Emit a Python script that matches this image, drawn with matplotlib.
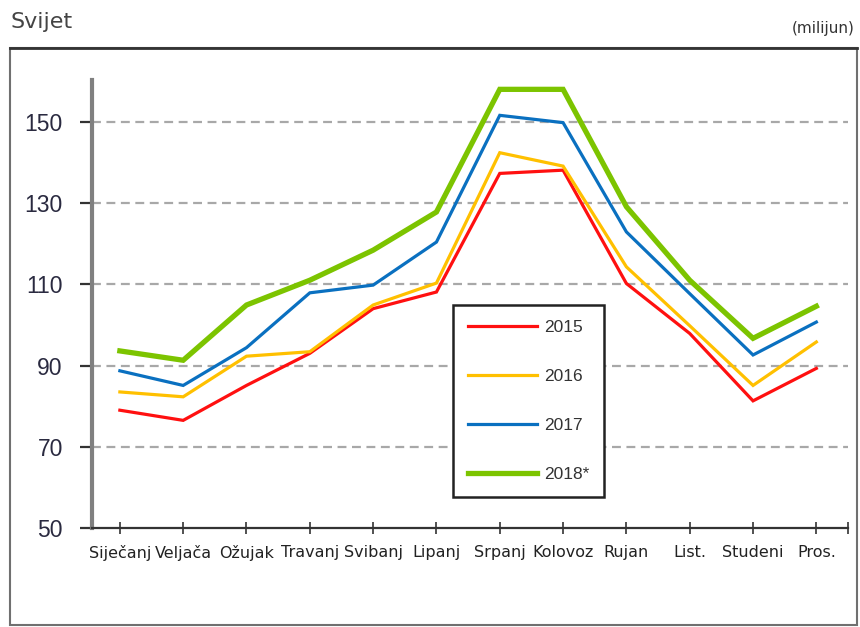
import matplotlib.pyplot as plt
from matplotlib.patches import Rectangle

# Podaci očitani s grafikona (milijun)
mjeseci = ["Siječanj", "Veljača", "Ožujak", "Travanj", "Svibanj", "Lipanj",
           "Srpanj", "Kolovoz", "Rujan", "List.", "Studeni", "Pros."]
v2015 = [79.0, 76.5, 85.1, 93.0, 104.0, 108.1, 137.3, 138.1, 110.2, 97.9, 81.3, 89.3]
v2016 = [83.5, 82.3, 92.3, 93.4, 104.9, 110.3, 142.4, 139.1, 114.3, 99.8, 85.1, 95.8]
v2017 = [88.7, 85.1, 94.4, 107.9, 109.8, 120.4, 151.6, 149.8, 122.9, 107.7, 92.6, 100.7]
v2018 = [93.6, 91.3, 104.9, 111.0, 118.4, 127.8, 158.0, 158.0, 129.1, 111.0, 96.7, 104.6]
godine = ["2015", "2016", "2017", "2018*"]
boje = ["#ff1010", "#ffc000", "#0a70c0", "#7cc400"]
y_ticks = [50, 70, 90, 110, 130, 150]

fig = plt.figure(figsize=(8.6, 6.27), dpi=100)
ax = fig.add_axes([92 / 860, 1 - 528 / 627, (848 - 92) / 860, (528 - 80) / 627])

# okvir oko grafikona
fig.patches.append(Rectangle((10 / 860, 1 - 625 / 627), 847 / 860, 577 / 627,
                             transform=fig.transFigure, fill=False,
                             edgecolor="#707070", linewidth=1.5))
fig.add_artist(plt.Line2D([10 / 860, 857 / 860], [1 - 48 / 627, 1 - 48 / 627],
                          transform=fig.transFigure, color="#333333", linewidth=2))

x = range(len(mjeseci))
serije = [v2015, v2016, v2017, v2018]
for vals, god, boja in zip(serije, godine, boje):
    lw = 3.8 if god == "2018*" else 2.3
    ax.plot(x, vals, color=boja, linewidth=lw, label=god, solid_joinstyle="miter")

ax.set_xlim(-0.44, 11.5)
ax.set_ylim(50, 160.3)
ax.set_yticks(y_ticks)
ax.set_xticks(list(x))
ax.set_xticks([11.5], minor=True)
ax.set_xticklabels(mjeseci, fontsize=11.5, color="#222222")
ax.set_yticklabels([str(v) for v in y_ticks], fontsize=16.5, color="#2a2a40",
                   family="Liberation Sans")

for v in y_ticks[1:]:
    ax.axhline(v, color="#a8a8a8", linewidth=1.6, linestyle=(0, (4, 2.5)), zorder=0)

ax.spines["top"].set_visible(False)
ax.spines["right"].set_visible(False)
ax.spines["left"].set_color("#808080")
ax.spines["left"].set_linewidth(3)
ax.spines["bottom"].set_color("#333333")
ax.spines["bottom"].set_linewidth(1.6)
ax.tick_params(axis="y", direction="out", length=9, width=1.6, color="#333333", pad=12)
ax.tick_params(axis="x", which="both", direction="inout", length=9, width=1.2,
               color="#333333", pad=8)

leg = ax.legend(loc="lower left", bbox_to_anchor=(0.4775, 0.069), borderaxespad=0,
                handlelength=4.0, labelspacing=1.95, borderpad=0.85,
                handletextpad=0.4, fancybox=False, framealpha=1,
                prop={"family": "Liberation Sans", "size": 12.5})
leg.get_frame().set_edgecolor("#222222")
leg.get_frame().set_linewidth(1.8)
for t in leg.get_texts():
    t.set_color("#333333")

fig.text(10 / 860, 1 - 22 / 627, "Svijet", fontsize=16, color="#444444", va="center")
fig.text(855 / 860, 1 - 28 / 627, "(milijun)", fontsize=11, color="#333333",
         va="center", ha="right")

fig.savefig("out.png", dpi=100)
